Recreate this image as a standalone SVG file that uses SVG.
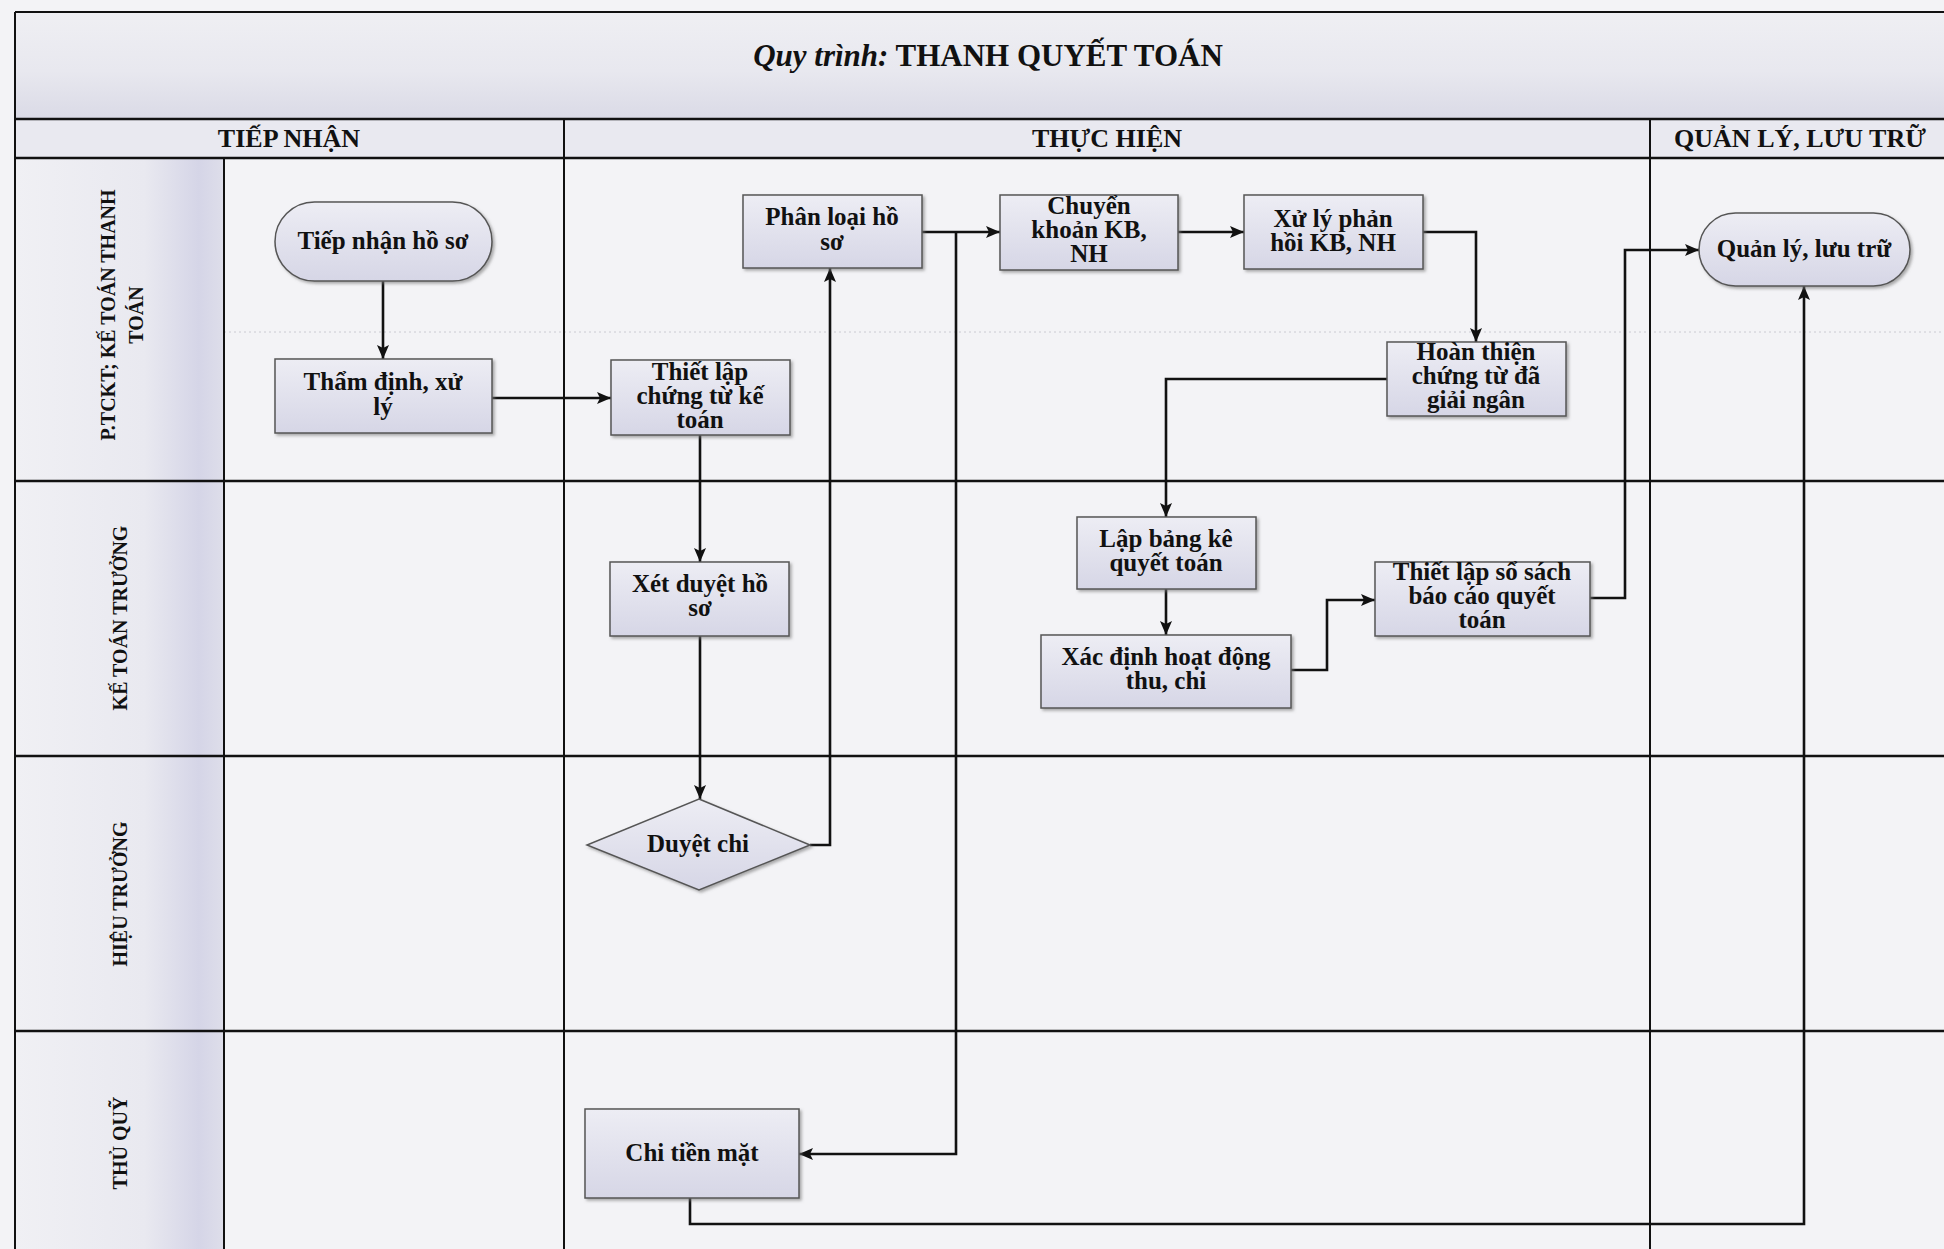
<svg xmlns="http://www.w3.org/2000/svg" width="1944" height="1249" viewBox="0 0 1944 1249">
<defs>
<linearGradient id="gTitle" x1="0" y1="0" x2="0" y2="1">
<stop offset="0" stop-color="#efeff3"/><stop offset="0.55" stop-color="#e8e8ef"/><stop offset="1" stop-color="#dadae6"/>
</linearGradient>
<linearGradient id="gLane" x1="0" y1="0" x2="1" y2="0">
<stop offset="0" stop-color="#f0f0f4"/><stop offset="0.62" stop-color="#e9e9f0"/><stop offset="0.88" stop-color="#d5d5e7"/><stop offset="1" stop-color="#dedeea"/>
</linearGradient>
<linearGradient id="gNode" x1="0" y1="0" x2="0" y2="1">
<stop offset="0" stop-color="#ededf4"/><stop offset="1" stop-color="#d6d6e6"/>
</linearGradient>
<filter id="sh" x="-10%" y="-10%" width="125%" height="130%">
<feDropShadow dx="2" dy="2" stdDeviation="1.5" flood-color="#777" flood-opacity="0.6"/>
</filter>
<marker id="arr" markerUnits="userSpaceOnUse" markerWidth="16" markerHeight="14" refX="14" refY="6" orient="auto">
<path d="M0,0 L14,6 L0,12 L3,6 z" fill="#111"/>
</marker>
<style>
.nd{fill:url(#gNode);stroke:#555;stroke-width:1.5;filter:url(#sh)}
.t{font-family:"Liberation Serif","Times New Roman",serif;font-weight:bold;font-size:25px;fill:#111;text-anchor:middle}
.hd{font-family:"Liberation Serif","Times New Roman",serif;font-weight:bold;font-size:26px;fill:#111;text-anchor:middle}
.ln{font-family:"Liberation Serif","Times New Roman",serif;font-weight:bold;font-size:20px;fill:#111;text-anchor:middle}
.grid{stroke:#111;fill:none}
.c{stroke:#111;stroke-width:2.6;fill:none;marker-end:url(#arr)}
</style>
</defs>

<g id="background">
<rect x="0" y="0" width="1944" height="1249" fill="#f3f3f6"/>
<rect x="15" y="12" width="1929" height="107" fill="url(#gTitle)"/>
<rect x="15" y="119" width="1929" height="39" fill="#e9e9f0"/>
<rect x="15" y="158" width="209" height="1091" fill="url(#gLane)"/>
<line x1="224" y1="332" x2="1944" y2="332" stroke="#cacad2" stroke-width="1" stroke-dasharray="2,3"/>
</g>

<g id="grid">
<line class="grid" x1="15" y1="12" x2="1944" y2="12" stroke-width="2"/>
<line class="grid" x1="15" y1="12" x2="15" y2="1249" stroke-width="2"/>
<line class="grid" x1="15" y1="119" x2="1944" y2="119" stroke-width="2.5"/>
<line class="grid" x1="15" y1="158" x2="1944" y2="158" stroke-width="2.5"/>
<line class="grid" x1="15" y1="481" x2="1944" y2="481" stroke-width="2.5"/>
<line class="grid" x1="15" y1="756" x2="1944" y2="756" stroke-width="2.5"/>
<line class="grid" x1="15" y1="1031" x2="1944" y2="1031" stroke-width="2.5"/>
<line class="grid" x1="224" y1="158" x2="224" y2="1249" stroke-width="2"/>
<line class="grid" x1="564" y1="119" x2="564" y2="1249" stroke-width="2"/>
<line class="grid" x1="1650" y1="119" x2="1650" y2="1249" stroke-width="2"/>
</g>

<g id="title">
<text x="988" y="66" font-family="'Liberation Serif','Times New Roman',serif" font-size="31" font-weight="bold" fill="#111" text-anchor="middle"><tspan font-style="italic">Quy trình:</tspan> THANH QUYẾT TOÁN</text>
</g>

<g id="headers">
<text class="hd" x="289" y="147">TIẾP NHẬN</text>
<text class="hd" x="1107" y="147">THỰC HIỆN</text>
<text class="hd" x="1800" y="147">QUẢN LÝ, LƯU TRỮ</text>
</g>

<g id="lanes">
<text class="ln" transform="translate(0,315) rotate(-90)"><tspan x="0" y="115">P.TCKT; KẾ TOÁN THANH</tspan><tspan x="0" y="143">TOÁN</tspan></text>
<text class="ln" transform="translate(127,618) rotate(-90)" x="0" y="0">KẾ TOÁN TRƯỞNG</text>
<text class="ln" transform="translate(127,894) rotate(-90)" x="0" y="0">HIỆU TRƯỞNG</text>
<text class="ln" transform="translate(127,1143) rotate(-90)" x="0" y="0">THỦ QUỸ</text>
</g>

<g id="connectors">
<path class="c" d="M383,281 V359"/>
<path class="c" d="M492,398 H611"/>
<path class="c" d="M700,435 V562"/>
<path class="c" d="M700,636 V799"/>
<path class="c" d="M810,845 H830 V268"/>
<path class="c" d="M922,232 H1000"/>
<path class="c" d="M956,232 V1154 H799"/>
<path class="c" d="M1178,232 H1244"/>
<path class="c" d="M1423,232 H1476 V342"/>
<path class="c" d="M1387,379 H1166 V517"/>
<path class="c" d="M1166,589 V635"/>
<path class="c" d="M1291,670 H1327 V600 H1375"/>
<path class="c" d="M1590,598 H1625 V250 H1699"/>
<path class="c" d="M690,1198 V1224 H1804 V286"/>
</g>

<g id="n-tiep-nhan">
<rect class="nd" x="275" y="202" width="217" height="79" rx="39.5" ry="39.5"/>
<text class="t" x="383" y="249">Tiếp nhận hồ sơ</text>
</g>
<g id="n-tham-dinh">
<rect class="nd" x="275" y="359" width="217" height="74"/>
<text class="t" x="383" y="390">Thẩm định, xử</text>
<text class="t" x="383" y="415">lý</text>
</g>
<g id="n-thiet-lap-ct">
<rect class="nd" x="611" y="360" width="179" height="75"/>
<text class="t" x="700" y="380">Thiết lập</text>
<text class="t" x="700" y="404">chứng từ kế</text>
<text class="t" x="700" y="428">toán</text>
</g>
<g id="n-phan-loai">
<rect class="nd" x="743" y="195" width="179" height="73"/>
<text class="t" x="832" y="225">Phân loại hồ</text>
<text class="t" x="832" y="250">sơ</text>
</g>
<g id="n-chuyen-khoan">
<rect class="nd" x="1000" y="195" width="178" height="75"/>
<text class="t" x="1089" y="214">Chuyển</text>
<text class="t" x="1089" y="238">khoản KB,</text>
<text class="t" x="1089" y="262">NH</text>
</g>
<g id="n-xu-ly">
<rect class="nd" x="1244" y="195" width="179" height="74"/>
<text class="t" x="1333" y="227">Xử lý phản</text>
<text class="t" x="1333" y="251">hồi KB, NH</text>
</g>
<g id="n-hoan-thien">
<rect class="nd" x="1387" y="342" width="179" height="74"/>
<text class="t" x="1476" y="360">Hoàn thiện</text>
<text class="t" x="1476" y="384">chứng từ đã</text>
<text class="t" x="1476" y="408">giải ngân</text>
</g>
<g id="n-quan-ly">
<rect class="nd" x="1699" y="213" width="211" height="73" rx="36.5" ry="36.5"/>
<text class="t" x="1804" y="257">Quản lý, lưu trữ</text>
</g>
<g id="n-xet-duyet">
<rect class="nd" x="610" y="562" width="179" height="74"/>
<text class="t" x="700" y="592">Xét duyệt hồ</text>
<text class="t" x="700" y="616">sơ</text>
</g>
<g id="n-lap-bang">
<rect class="nd" x="1077" y="517" width="179" height="72"/>
<text class="t" x="1166" y="547">Lập bảng kê</text>
<text class="t" x="1166" y="571">quyết toán</text>
</g>
<g id="n-xac-dinh">
<rect class="nd" x="1041" y="635" width="250" height="73"/>
<text class="t" x="1166" y="665">Xác định hoạt động</text>
<text class="t" x="1166" y="689">thu, chi</text>
</g>
<g id="n-thiet-lap-ss">
<rect class="nd" x="1375" y="562" width="215" height="74"/>
<text class="t" x="1482" y="580">Thiết lập sổ sách</text>
<text class="t" x="1482" y="604">báo cáo quyết</text>
<text class="t" x="1482" y="628">toán</text>
</g>
<g id="n-duyet-chi">
<polygon class="nd" points="699,799 810,845 699,890 587,845"/>
<text class="t" x="698" y="852">Duyệt chi</text>
</g>
<g id="n-chi-tien">
<rect class="nd" x="585" y="1109" width="214" height="89"/>
<text class="t" x="692" y="1161">Chi tiền mặt</text>
</g>
</svg>
